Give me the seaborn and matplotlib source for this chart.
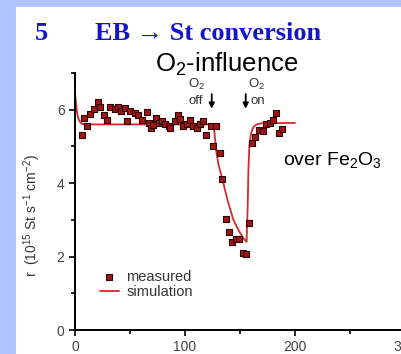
import matplotlib
matplotlib.use('Agg')
import matplotlib.pyplot as plt
import seaborn as sns
from matplotlib.patches import Rectangle

# measured rate
t_meas = [6, 8, 11, 14, 17, 21, 23, 26, 29, 32, 36, 39, 41.5, 45, 47, 50, 54.5, 57.5,
          61, 65, 67, 69, 71, 74, 76.5, 79, 82, 85, 86.5, 91, 93.5, 95, 98.5, 101.5,
          104.5, 107.5, 110.5, 113.5, 116.5, 119, 123.5, 125, 128, 131.5, 134, 137,
          140, 143, 146.5, 149.5, 152.5, 155.5, 158.5, 160.5, 164, 167.5, 170.5, 174,
          177, 180, 182.5, 185, 188]
r_meas = [5.32, 5.77, 5.57, 5.88, 6.03, 6.21, 6.07, 5.85, 5.73, 6.07, 6.03, 6.07, 5.97,
          6.05, 5.69, 5.96, 5.91, 5.86, 5.73, 5.94, 5.64, 5.50, 5.59, 5.77, 5.64, 5.70,
          5.61, 5.55, 5.50, 5.70, 5.86, 5.75, 5.55, 5.61, 5.72, 5.57, 5.49, 5.60, 5.68,
          5.30, 5.57, 5.00, 5.55, 4.82, 4.10, 3.01, 2.68, 2.41, 2.47, 2.47, 2.10, 2.06,
          2.92, 5.08, 5.25, 5.46, 5.42, 5.60, 5.65, 5.71, 5.90, 5.36, 5.47]

# simulation curve
t_sim = [0, 1, 2, 3, 4.5, 6, 9, 126, 127, 128.5, 130.5, 134, 139, 144, 149, 153, 156,
         157, 157.7, 158.5, 160, 162, 165, 170, 200]
r_sim = [6.45, 6.15, 5.9, 5.76, 5.67, 5.62, 5.6, 5.6, 5.3, 4.85, 4.5, 4.1, 3.5, 3.0, 2.7,
         2.5, 2.4, 3.4, 4.4, 5.0, 5.35, 5.52, 5.6, 5.63, 5.64]

x_ticks = [0, 100, 200, 300]
x_minor = [50, 150, 250]
y_ticks = [0, 2, 4, 6]
y_minor = [1, 3, 5, 7]

sns.set_style('ticks')
plt.rcParams['font.family'] = ['Liberation Sans', 'DejaVu Sans']
plt.rcParams['mathtext.fontset'] = 'custom'
plt.rcParams['mathtext.rm'] = 'Liberation Sans'
plt.rcParams['mathtext.it'] = 'Liberation Sans:italic'
plt.rcParams['mathtext.bf'] = 'Liberation Sans:bold'

W, H = 401, 354
fig = plt.figure(figsize=(W / 100, H / 100), dpi=100)
fig.patch.set_facecolor('#b0c4ff')
fig.add_artist(Rectangle((16 / W, 0), 1, 1 - 7 / H, transform=fig.transFigure,
                         facecolor='white', edgecolor='none', zorder=-10))

ax = fig.add_axes([75 / W, 24 / H, 330 / W, 257 / H])
ax.set_facecolor('none')

sns.lineplot(x=t_sim, y=r_sim, color='#d42a2a', lw=1.3, ax=ax, label='simulation',
             sort=False, estimator=None, zorder=2)
sns.scatterplot(x=t_meas, y=r_meas, marker='s', s=18, color='#a31515',
                edgecolor='#2a0000', linewidth=0.8, ax=ax, label='measured', zorder=3)

ax.set_xlim(0, 300)
ax.set_ylim(0, 7)
ax.set_xticks(x_ticks)
ax.set_xticks(x_minor, minor=True)
ax.set_yticks(y_ticks)
ax.set_yticks(y_minor, minor=True)
ax.tick_params(which='major', length=4, width=1.2, direction='out', color='black',
               labelsize=10, labelcolor='#444444')
ax.tick_params(which='minor', length=3, width=1.2, direction='out', color='black')
sns.despine(ax=ax)
for s in ['left', 'bottom']:
    ax.spines[s].set_linewidth(1.4)
    ax.spines[s].set_color('black')

ax.set_xlabel('t (min)', fontsize=10, color='#333333', labelpad=1)
ax.set_ylabel('r  (10$^{15}$ St s$^{-1}$ cm$^{-2}$)', fontsize=10, color='#333333')
ax.yaxis.set_label_coords(-0.097, 0.447)

handles, labels = ax.get_legend_handles_labels()
order = [labels.index('measured'), labels.index('simulation')]
ax.legend([handles[i] for i in order], [labels[i] for i in order],
          loc='upper left', bbox_to_anchor=(25 / 330, 60 / 257), frameon=False,
          fontsize=10.5, labelspacing=0.05, handlelength=1.3, handletextpad=0.5,
          borderpad=0, borderaxespad=0, labelcolor='#333333')

# O2 off / on markers
ax.text(110.5, 6.68, 'O$_2$', ha='center', va='center', fontsize=9.5, color='#333333')
ax.text(110, 6.23, 'off', ha='center', va='center', fontsize=9.5, color='#333333')
ax.text(165, 6.68, 'O$_2$', ha='center', va='center', fontsize=9.5, color='#333333')
ax.text(159.5, 6.23, 'on', ha='left', va='center', fontsize=9.5, color='#333333')
for tx in [124.3, 155.2]:
    ax.annotate('', xy=(tx, 5.95), xytext=(tx, 6.5),
                arrowprops=dict(arrowstyle='-|>', color='black', lw=1.3, mutation_scale=8))

ax.text(189, 4.5, 'over Fe$_2$O$_3$', fontsize=14, color='black')

serif = ['Liberation Serif', 'DejaVu Serif']
fig.text(35 / W, 1 - 40 / H, '5', family=serif, weight='bold', color='#1414c8', fontsize=19)
fig.text(95 / W, 1 - 40 / H, 'EB \u2192 St conversion', family=serif, weight='bold',
         color='#1414c8', fontsize=19)
fig.text(155 / W, 1 - 72 / H, 'O$_2$-influence', fontsize=18.5, color='black')

fig.savefig('out.png', dpi=100)
